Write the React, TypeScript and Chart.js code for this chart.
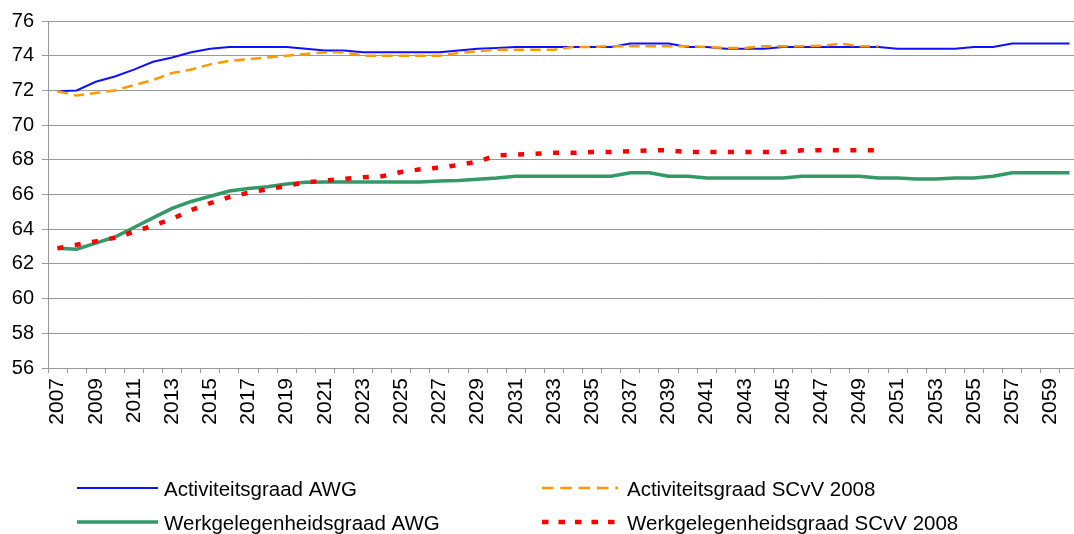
import React, { useEffect, useRef } from "react";
import { Chart, registerables } from "chart.js";

Chart.register(...registerables);

const years = [
  "2007", "2008", "2009", "2010", "2011", "2012", "2013", "2014", "2015", "2016",
  "2017", "2018", "2019", "2020", "2021", "2022", "2023", "2024", "2025", "2026",
  "2027", "2028", "2029", "2030", "2031", "2032", "2033", "2034", "2035", "2036",
  "2037", "2038", "2039", "2040", "2041", "2042", "2043", "2044", "2045", "2046",
  "2047", "2048", "2049", "2050", "2051", "2052", "2053", "2054", "2055", "2056",
  "2057", "2058", "2059", "2060",
];

// Activiteitsgraad AWG (2007-2060)
const activiteitsgraadAWG = [
  71.95, 72.0, 72.5, 72.8, 73.2, 73.65, 73.9, 74.2, 74.4, 74.5,
  74.5, 74.5, 74.5, 74.4, 74.3, 74.3, 74.2, 74.2, 74.2, 74.2,
  74.2, 74.3, 74.4, 74.45, 74.5, 74.5, 74.5, 74.5, 74.5, 74.5,
  74.7, 74.7, 74.7, 74.5, 74.5, 74.4, 74.4, 74.4, 74.5, 74.5,
  74.5, 74.5, 74.5, 74.5, 74.4, 74.4, 74.4, 74.4, 74.5, 74.5,
  74.7, 74.7, 74.7, 74.7,
];

// Activiteitsgraad SCvV 2008 (2007-2050)
const activiteitsgraadSCvV = [
  71.95, 71.7, 71.85, 72.0, 72.3, 72.6, 73.0, 73.2, 73.5, 73.7,
  73.8, 73.9, 74.0, 74.1, 74.2, 74.2, 74.0, 74.0, 74.0, 74.0,
  74.0, 74.15, 74.25, 74.35, 74.35, 74.35, 74.35, 74.5, 74.5, 74.55,
  74.55, 74.55, 74.55, 74.55, 74.5, 74.45, 74.45, 74.55, 74.55, 74.55,
  74.57, 74.7, 74.55, 74.55,
];

// Werkgelegenheidsgraad AWG (2007-2060)
const werkgelegenheidsgraadAWG = [
  62.9, 62.85, 63.2, 63.55, 64.1, 64.65, 65.2, 65.6, 65.9, 66.2,
  66.35, 66.45, 66.6, 66.7, 66.72, 66.72, 66.72, 66.72, 66.72, 66.72,
  66.78, 66.8, 66.88, 66.95, 67.05, 67.05, 67.05, 67.05, 67.05, 67.05,
  67.25, 67.25, 67.05, 67.05, 66.95, 66.95, 66.95, 66.95, 66.95, 67.05,
  67.05, 67.05, 67.05, 66.95, 66.95, 66.9, 66.9, 66.95, 66.95, 67.05,
  67.25, 67.25, 67.25, 67.25,
];

// Werkgelegenheidsgraad SCvV 2008 (2007-2050)
const werkgelegenheidsgraadSCvV = [
  62.9, 63.1, 63.3, 63.5, 63.85, 64.2, 64.6, 65.1, 65.5, 65.85,
  66.1, 66.3, 66.5, 66.7, 66.8, 66.9, 67.0, 67.05, 67.3, 67.45,
  67.55, 67.7, 67.9, 68.25, 68.3, 68.35, 68.4, 68.4, 68.45, 68.45,
  68.5, 68.55, 68.55, 68.45, 68.45, 68.45, 68.45, 68.45, 68.45, 68.55,
  68.55, 68.55, 68.55, 68.55,
];

const seriesLabels = [
  "Activiteitsgraad AWG",
  "Activiteitsgraad SCvV 2008",
  "Werkgelegenheidsgraad AWG",
  "Werkgelegenheidsgraad SCvV 2008",
];

const FONT = "'Liberation Sans', Arial, sans-serif";

const legendPlugin = {
  id: "twoColumnLegend",
  afterDraw(chart: any) {
    const ctx = chart.ctx as CanvasRenderingContext2D;
    const ds = chart.data.datasets;
    const lineStart = [77, 542];
    const lineEnd = [158, 618];
    const textX = [164, 627];
    const rows = [488, 522];
    ds.forEach((d: any, i: number) => {
      const col = i % 2;
      const row = Math.floor(i / 2);
      const y = rows[row];
      ctx.save();
      ctx.strokeStyle = d.borderColor;
      ctx.lineWidth = d.borderWidth;
      ctx.lineCap = "butt";
      ctx.setLineDash(d.legendDash || d.borderDash || []);
      ctx.beginPath();
      ctx.moveTo(lineStart[col], y);
      ctx.lineTo(lineEnd[col], y);
      ctx.stroke();
      ctx.setLineDash([]);
      ctx.fillStyle = "#000";
      ctx.font = `20.5px ${FONT}`;
      ctx.textBaseline = "alphabetic";
      ctx.textAlign = "left";
      ctx.fillText(d.label, textX[col], y + 7.5);
      ctx.restore();
    });
  },
};

export default function App() {
  const canvasRef = useRef<HTMLCanvasElement | null>(null);

  useEffect(() => {
    document.body.style.margin = "0";
    const canvas = canvasRef.current;
    if (!canvas) return;
    const chart = new Chart(canvas, {
      type: "line",
      data: {
        labels: years,
        datasets: [
          {
            label: seriesLabels[0],
            data: activiteitsgraadAWG,
            borderColor: "#1010ff",
            borderWidth: 2,
            pointRadius: 0,
            tension: 0,
            fill: false,
            order: 4,
          },
          {
            label: seriesLabels[1],
            data: activiteitsgraadSCvV,
            borderColor: "#ff9900",
            borderWidth: 2.5,
            borderDash: [10.5, 6],
            legendDash: [11.5, 6.8],
            pointRadius: 0,
            tension: 0,
            fill: false,
            order: 3,
          } as any,
          {
            label: seriesLabels[2],
            data: werkgelegenheidsgraadAWG,
            borderColor: "#339966",
            borderWidth: 3.5,
            pointRadius: 0,
            tension: 0,
            fill: false,
            order: 2,
          },
          {
            label: seriesLabels[3],
            data: werkgelegenheidsgraadSCvV,
            borderColor: "#ff0000",
            borderWidth: 4.5,
            borderDash: [6, 11.5],
            legendDash: [6.5, 10],
            pointRadius: 0,
            tension: 0,
            fill: false,
            order: 1,
          } as any,
        ],
      },
      options: {
        responsive: false,
        animation: false,
        events: [],
        layout: { padding: { top: 21, right: 3, bottom: 0, left: 0 } },
        plugins: {
          legend: { display: false },
          tooltip: { enabled: false },
          title: { display: false },
        },
        scales: {
          x: {
            type: "category",
            offset: true,
            grid: {
              offset: true,
              drawOnChartArea: false,
              drawTicks: true,
              tickLength: 5,
              color: "#999999",
            },
            border: { display: true, color: "#999999" },
            ticks: {
              autoSkip: false,
              minRotation: 90,
              maxRotation: 90,
              padding: 5,
              color: "#000",
              font: { family: FONT, size: 21 },
              callback: (_v: any, idx: number) => (idx % 2 === 0 ? years[idx] : ""),
            },
            afterFit: (scale: any) => {
              scale.height = 166;
              scale.paddingLeft = 0;
              scale.paddingRight = 0;
            },
          },
          y: {
            min: 56,
            max: 76,
            grid: {
              color: "#999999",
              drawTicks: true,
              tickLength: 6,
            },
            border: { display: true, color: "#999999" },
            ticks: {
              stepSize: 2,
              padding: 8,
              color: "#000",
              font: { family: FONT, size: 20 },
            },
            afterFit: (scale: any) => {
              scale.width = 48;
            },
          },
        },
      },
      plugins: [legendPlugin],
    });
    return () => chart.destroy();
  }, []);

  return (
    <div
      style={{
        position: "absolute",
        left: 0,
        top: 0,
        width: 1074,
        height: 534,
        overflow: "hidden",
        background: "#fff",
      }}
    >
      <canvas ref={canvasRef} width={1082} height={534} style={{ width: 1082, height: 534 }} />
    </div>
  );
}
